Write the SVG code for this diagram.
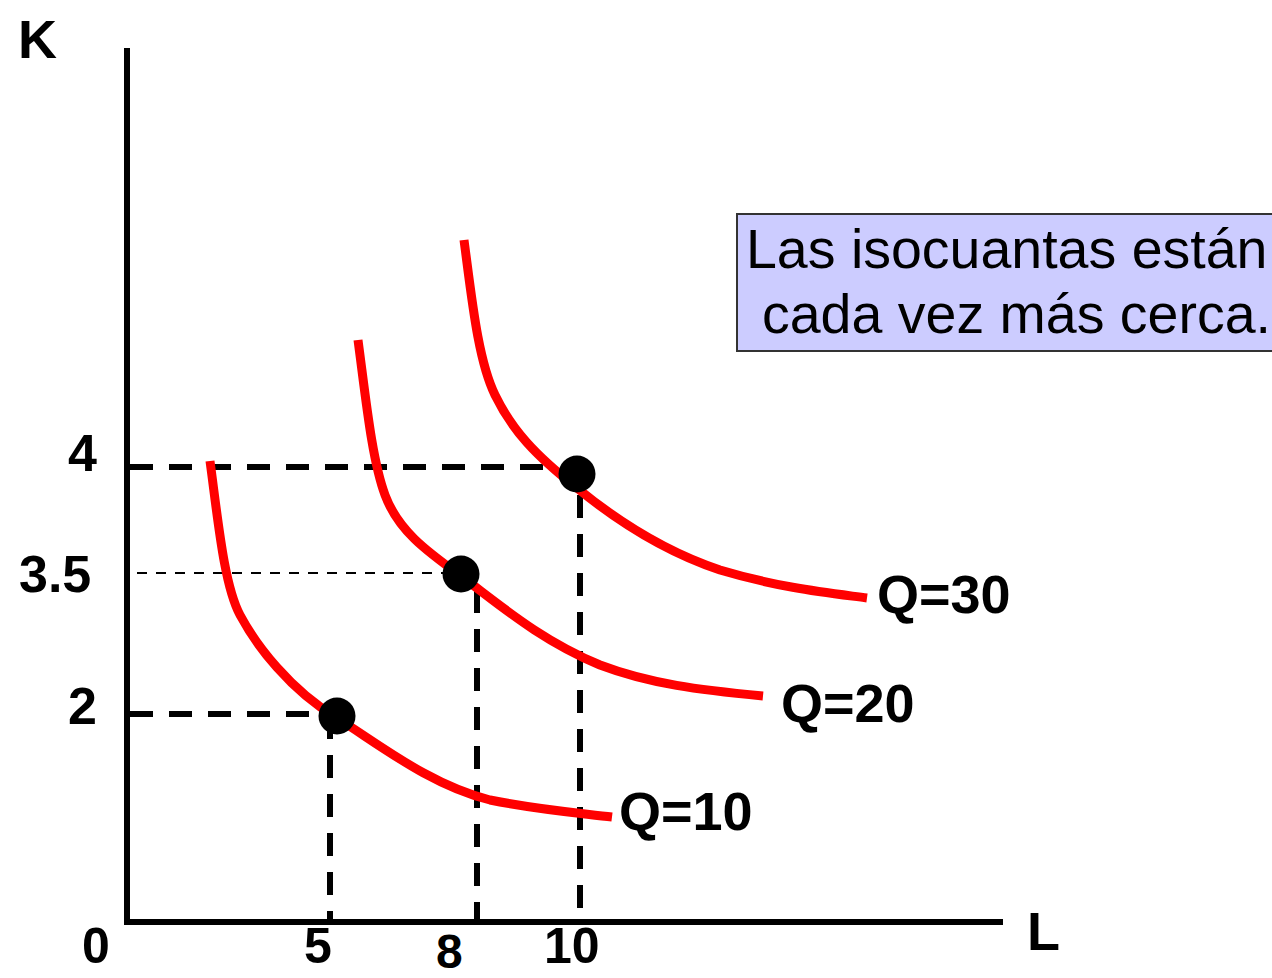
<svg xmlns="http://www.w3.org/2000/svg" width="1272" height="978" viewBox="0 0 1272 978">
<style>
.axis{stroke:#000;stroke-width:6;fill:none}
.dash{stroke:#000;stroke-width:6;stroke-dasharray:23 16;fill:none}
.thin{stroke:#000;stroke-width:2;stroke-dasharray:10 9;fill:none}
.iso{stroke:#ff0000;stroke-width:9;fill:none}
.dot{fill:#000}
.lbl{font-family:"Liberation Sans",Arial,sans-serif;font-weight:bold;fill:#000}
.note{font-family:"Liberation Sans",Arial,sans-serif;font-size:55.5px;fill:#000}
</style>
<rect width="1272" height="978" fill="#fff"/>
<g id="axes">
<path class="axis" d="M127,48 V925 M124,922 H1003"/>
<text class="lbl" x="18" y="58" font-size="54">K</text>
<text class="lbl" x="1027" y="950" font-size="54">L</text>
<text class="lbl" x="82" y="963" font-size="50">0</text>
<text class="lbl" x="304" y="963" font-size="50">5</text>
<text class="lbl" x="436" y="968" font-size="48">8</text>
<text class="lbl" x="544" y="963" font-size="50">10</text>
<text class="lbl" x="68" y="471" font-size="52">4</text>
<text class="lbl" x="19" y="592" font-size="52">3.5</text>
<text class="lbl" x="68" y="724" font-size="52">2</text>
</g>
<g id="connectors">
<path class="dash" d="M130,467 H548"/>
<path class="thin" d="M137,573 H445"/>
<path class="dash" d="M130,714 H318"/>
<path class="dash" d="M330,716 V922"/>
<path class="dash" d="M477,590 V922"/>
<path class="dash" d="M580,495 V922"/>
</g>
<g id="q10">
<path class="iso" d="M210,461 C218,520 224,585 240,615 S290,690 337,718 C380,745 430,785 490,800 C540,810 580,813 612,817"/>
<text class="lbl" x="619" y="830" font-size="54">Q=10</text>
</g>
<g id="q20">
<path class="iso" d="M358,340 C366,400 372,460 385,495 S425,550 461,576 C500,605 540,640 600,665 C650,684 700,690 763,696"/>
<text class="lbl" x="781" y="722" font-size="54">Q=20</text>
</g>
<g id="q30">
<path class="iso" d="M464,240 C472,300 478,360 495,395 S535,455 577,488 C610,515 660,550 720,570 C780,588 830,593 867,598"/>
<text class="lbl" x="877" y="613" font-size="54">Q=30</text>
</g>
<g id="points">
<circle class="dot" cx="337" cy="716" r="18.5"/>
<circle class="dot" cx="461" cy="574" r="18.5"/>
<circle class="dot" cx="577" cy="474" r="18.5"/>
</g>
<g id="note">
<rect x="737" y="214" width="545" height="137" fill="#ccccff" stroke="#333" stroke-width="2"/>
<text class="note" x="746" y="268">Las isocuantas están</text>
<text class="note" x="762" y="333">cada vez más cerca.</text>
</g>
</svg>
